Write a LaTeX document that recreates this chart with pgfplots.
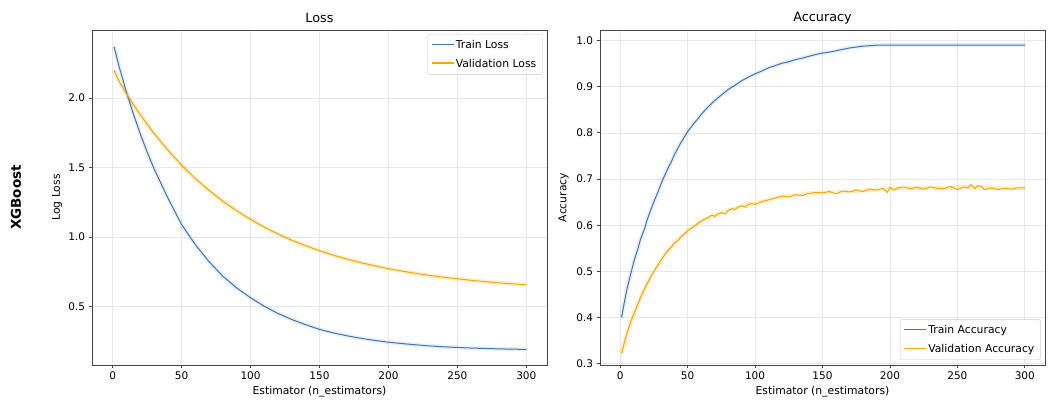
\documentclass[border=0pt]{standalone}
\usepackage{fontspec}
\setmainfont{DejaVu Sans}
\usepackage{pgfplots}
\pgfplotsset{compat=1.18}
\definecolor{trainc}{RGB}{62,116,178}
\definecolor{valc}{RGB}{245,168,0}
\definecolor{gridc}{RGB}{232,232,232}
\definecolor{spinec}{RGB}{70,70,70}
\pgfplotsset{
  common/.style={
    scale only axis,
    anchor=south west,
    xmin=-15, xmax=315,
    xtick={0,50,100,150,200,250,300},
    grid=major,
    major grid style={gridc, line width=0.6pt},
    axis line style={spinec, line width=0.8pt},
    tick align=outside, tick pos=left,
    major tick length=3.5pt,
    every tick/.style={spinec, line width=0.8pt},
    /pgf/number format/assume math mode=true,
    ticklabel style={font=\fontsize{10.5}{12}\selectfont},
    label style={font=\fontsize{10.8}{12}\selectfont},
    every axis title shift=0pt,
    title style={font=\fontsize{12.8}{14}\selectfont, anchor=center, at={(rel axis cs:0.5,1.036)}},
    xlabel style={anchor=center, at={(rel axis cs:0.5,-0.0806)}},
    xlabel={Estimator (n\_estimators)},
    yticklabel style={/pgf/number format/.cd, fixed, fixed zerofill, precision=1},
    legend cell align=left,
    legend style={font=\fontsize{10.8}{12}\selectfont, draw=black!20, rounded corners=2pt, inner sep=4pt, row sep=5pt},
  },
  trainimg/.style={legend image code/.code={\node[inner sep=0pt, anchor=west] at (0pt,0pt) {\textcolor{trainc}{\rule{22pt}{1.3pt}}};}},
  valimg/.style={legend image code/.code={\node[inner sep=0pt, anchor=west] at (0pt,0pt) {\textcolor{valc}{\rule{22pt}{1.3pt}}};}},
}
\begin{document}
\begin{tikzpicture}
\useasboundingbox (0,0) rectangle (1055pt,401pt);
\begin{axis}[common,
  at={(92pt,36pt)}, width=455pt, height=335pt,
  ymin=0.08, ymax=2.49,
  ytick={0.5,1.0,1.5,2.0},
  title={Loss},
  ylabel={Log Loss},
  ylabel style={anchor=center, at={(rel axis cs:-0.077,0.5)}},
  legend style={at={(rel axis cs:0.99,0.988)}, anchor=north east},
]
\addlegendimage{trainimg}
\addlegendentry{Train Loss}
\addlegendimage{valimg}
\addlegendentry{Validation Loss}
\addplot[forget plot, draw=trainc, opacity=0.12, line width=4pt] coordinates {
(1,2.370) (5,2.214) (10,2.043) (15,1.886) (20,1.743) (25,1.612) (30,1.492) (40,1.281) (50,1.090) (60,0.945) (70,0.822) (80,0.718) (90,0.634) (100,0.564) (110,0.502) (120,0.450) (130,0.407) (140,0.370) (150,0.336) (160,0.311) (170,0.290) (180,0.272) (190,0.257) (200,0.244) (210,0.234) (220,0.225) (230,0.217) (240,0.211) (250,0.206) (260,0.202) (270,0.199) (280,0.196) (290,0.194) (300,0.192)};
\addplot[forget plot, draw=valc, opacity=0.2, line width=4pt] coordinates {
(1,2.200) (5,2.114) (10,2.032) (15,1.954) (20,1.881) (25,1.812) (30,1.746) (40,1.626) (50,1.518) (60,1.421) (70,1.335) (80,1.258) (90,1.189) (100,1.127) (110,1.071) (120,1.022) (130,0.977) (140,0.938) (150,0.902) (160,0.870) (170,0.842) (180,0.816) (190,0.794) (200,0.773) (210,0.755) (220,0.739) (230,0.724) (240,0.711) (250,0.700) (260,0.689) (270,0.680) (280,0.671) (290,0.664) (300,0.657)};
\addplot[forget plot, trainc, line width=1pt] coordinates {
(1,2.370) (5,2.214) (10,2.043) (15,1.886) (20,1.743) (25,1.612) (30,1.492) (40,1.281) (50,1.090) (60,0.945) (70,0.822) (80,0.718) (90,0.634) (100,0.564) (110,0.502) (120,0.450) (130,0.407) (140,0.370) (150,0.336) (160,0.311) (170,0.290) (180,0.272) (190,0.257) (200,0.244) (210,0.234) (220,0.225) (230,0.217) (240,0.211) (250,0.206) (260,0.202) (270,0.199) (280,0.196) (290,0.194) (300,0.192)};
\addplot[forget plot, valc, line width=1pt] coordinates {
(1,2.200) (5,2.114) (10,2.032) (15,1.954) (20,1.881) (25,1.812) (30,1.746) (40,1.626) (50,1.518) (60,1.421) (70,1.335) (80,1.258) (90,1.189) (100,1.127) (110,1.071) (120,1.022) (130,0.977) (140,0.938) (150,0.902) (160,0.870) (170,0.842) (180,0.816) (190,0.794) (200,0.773) (210,0.755) (220,0.739) (230,0.724) (240,0.711) (250,0.700) (260,0.689) (270,0.680) (280,0.671) (290,0.664) (300,0.657)};
\end{axis}
\node[rotate=90, font=\fontsize{13.5}{15}\selectfont\bfseries] at (16pt,203.5pt) {XGBoost};
\begin{axis}[common,
  at={(600pt,36pt)}, width=445pt, height=335pt,
  ymin=0.297, ymax=1.023,
  ytick={0.3,0.4,0.5,0.6,0.7,0.8,0.9,1.0},
  title={Accuracy},
  ylabel={Accuracy},
  ylabel style={anchor=center, at={(rel axis cs:-0.082,0.5)}},
  legend style={at={(rel axis cs:0.99,0.015)}, anchor=south east},
]
\addlegendimage{trainimg}
\addlegendentry{Train Accuracy}
\addlegendimage{valimg}
\addlegendentry{Validation Accuracy}
\addplot[forget plot, draw=trainc, opacity=0.12, line width=4pt] coordinates {
(1,0.400) (3,0.432) (5,0.462) (8,0.497) (10,0.520) (13,0.548) (15,0.569) (18,0.592) (20,0.612) (23,0.636) (25,0.651) (28,0.672) (30,0.688) (33,0.708) (35,0.721) (38,0.738) (40,0.752) (43,0.768) (45,0.779) (48,0.793) (50,0.803) (53,0.814) (55,0.822) (58,0.832) (60,0.840) (65,0.856) (70,0.870) (75,0.882) (80,0.894) (85,0.903) (90,0.913) (95,0.921) (100,0.928) (105,0.934) (110,0.941) (115,0.946) (120,0.951) (125,0.954) (130,0.959) (135,0.962) (140,0.966) (145,0.970) (150,0.973) (155,0.975) (160,0.978) (165,0.981) (170,0.984) (175,0.986) (180,0.988) (185,0.989) (190,0.990) (200,0.990) (250,0.990) (300,0.990)};
\addplot[forget plot, draw=valc, opacity=0.2, line width=4pt] coordinates {
(1,0.322) (5,0.366) (10,0.407) (15,0.443) (20,0.474) (25,0.500) (30,0.523) (35,0.544) (40,0.561) (45,0.575) (50,0.588) (55,0.598) (60,0.608) (65,0.616) (70,0.621) (75,0.627) (80,0.632) (85,0.636) (90,0.641) (95,0.645) (100,0.647) (110,0.655) (120,0.662) (130,0.665) (140,0.669) (150,0.671) (160,0.672) (170,0.673) (180,0.675) (190,0.677) (200,0.679) (220,0.681) (240,0.681) (260,0.683) (280,0.680) (300,0.681)};
\addplot[forget plot, trainc, line width=1pt] coordinates {
(1,0.400) (3,0.432) (5,0.462) (8,0.497) (10,0.520) (13,0.548) (15,0.569) (18,0.592) (20,0.612) (23,0.636) (25,0.651) (28,0.672) (30,0.688) (33,0.708) (35,0.721) (38,0.738) (40,0.752) (43,0.768) (45,0.779) (48,0.793) (50,0.803) (53,0.814) (55,0.822) (58,0.832) (60,0.840) (65,0.856) (70,0.870) (75,0.882) (80,0.894) (85,0.903) (90,0.913) (95,0.921) (100,0.928) (105,0.934) (110,0.941) (115,0.946) (120,0.951) (125,0.954) (130,0.959) (135,0.962) (140,0.966) (145,0.970) (150,0.973) (155,0.975) (160,0.978) (165,0.981) (170,0.984) (175,0.986) (180,0.988) (185,0.989) (190,0.990) (200,0.990) (250,0.990) (300,0.990)};
\addplot[forget plot, valc, line width=1pt] coordinates {
(1,0.322) (3,0.345) (5,0.366) (8,0.392) (10,0.407) (13,0.428) (15,0.443) (18,0.462) (20,0.474) (23,0.490) (25,0.500) (28,0.514) (30,0.523) (33,0.536) (35,0.544) (38,0.553) (40,0.561) (43,0.567) (45,0.575) (48,0.582) (50,0.588) (53,0.594) (55,0.598) (58,0.605) (60,0.608) (63,0.614) (65,0.616) (68,0.622) (70,0.619) (73,0.625) (75,0.627) (78,0.624) (80,0.632) (83,0.636) (85,0.634) (88,0.640) (90,0.642) (93,0.639) (95,0.645) (98,0.647) (100,0.645) (105,0.651) (110,0.655) (115,0.659) (120,0.663) (125,0.661) (130,0.666) (135,0.664) (140,0.669) (145,0.671) (150,0.670) (155,0.673) (160,0.668) (165,0.674) (170,0.672) (175,0.676) (180,0.673) (185,0.678) (190,0.676) (195,0.680) (198,0.671) (200,0.682) (203,0.676) (205,0.680) (210,0.683) (215,0.679) (220,0.682) (225,0.678) (230,0.683) (235,0.680) (240,0.679) (245,0.684) (250,0.677) (255,0.683) (258,0.681) (260,0.688) (263,0.679) (265,0.686) (268,0.684) (270,0.677) (275,0.681) (280,0.677) (285,0.680) (290,0.678) (295,0.681) (300,0.681)};
\end{axis}
\end{tikzpicture}
\end{document}
